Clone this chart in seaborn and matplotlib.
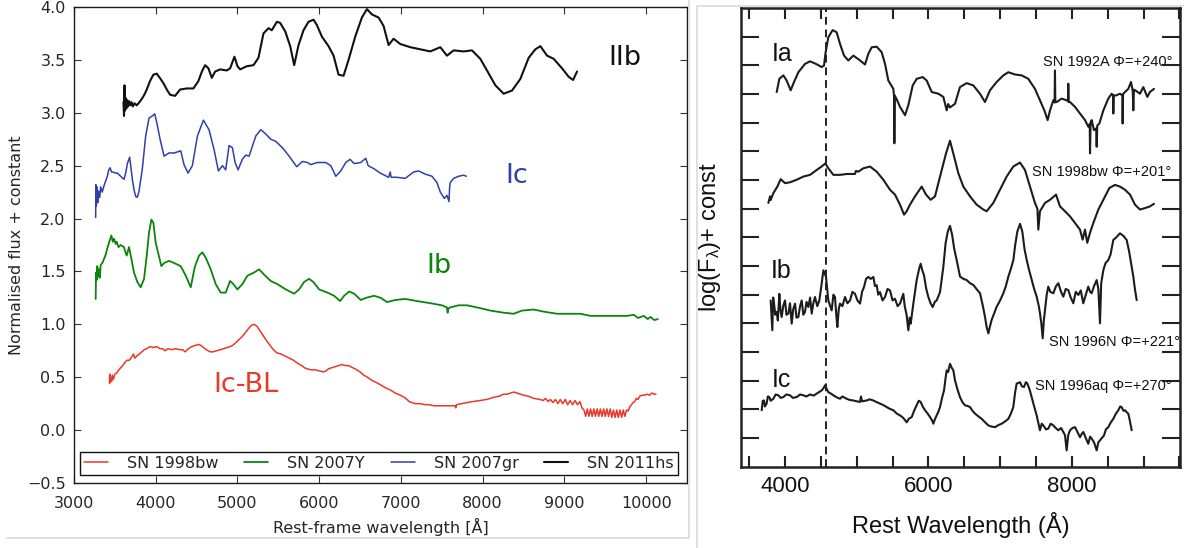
import numpy as np
import pandas as pd
import matplotlib
matplotlib.use("Agg")
import matplotlib.pyplot as plt
from matplotlib.ticker import MultipleLocator, NullFormatter
from matplotlib.lines import Line2D
import seaborn as sns

# ---------------- LEFT PANEL DATA (normalised flux + constant) ----------------
wl_2011hs = [3605, 3612, 3618, 3624, 3632, 3640, 3650, 3662, 3675, 3690, 3705, 3720, 3740, 3767, 3800,
             3829, 3860, 3890, 3930, 3971, 4012, 4050, 4094, 4135, 4176, 4237, 4298, 4380, 4461, 4522,
             4565, 4604, 4645, 4686, 4727, 4788, 4869, 4910, 4963, 5000, 5033, 5114, 5196, 5257, 5318,
             5380, 5420, 5482, 5522, 5584, 5645, 5694, 5747, 5808, 5869, 5931, 5971, 6033, 6114, 6176,
             6237, 6298, 6359, 6441, 6522, 6584, 6645, 6727, 6788, 6849, 6910, 6992, 7114, 7237, 7359,
             7482, 7563, 7645, 7767, 7869, 7971, 8053, 8155, 8257, 8359, 8461, 8563, 8645, 8706, 8788,
             8869, 8971, 9053, 9106, 9155]
fl_2011hs = [3.10, 2.97, 3.26, 3.02, 3.14, 3.04, 3.12, 3.06, 3.11, 3.07, 3.10, 3.06, 3.09, 3.07, 3.10,
             3.13, 3.17, 3.22, 3.30, 3.36, 3.37, 3.33, 3.28, 3.22, 3.17, 3.16, 3.22, 3.23, 3.23, 3.30,
             3.39, 3.45, 3.42, 3.33, 3.39, 3.41, 3.40, 3.42, 3.53, 3.44, 3.41, 3.44, 3.45, 3.52, 3.75,
             3.80, 3.78, 3.86, 3.85, 3.77, 3.63, 3.45, 3.64, 3.78, 3.86, 3.88, 3.83, 3.72, 3.63, 3.54,
             3.36, 3.35, 3.50, 3.72, 3.90, 3.98, 3.93, 3.90, 3.82, 3.64, 3.70, 3.65, 3.62, 3.60, 3.58,
             3.62, 3.54, 3.59, 3.58, 3.59, 3.51, 3.40, 3.26, 3.18, 3.21, 3.32, 3.52, 3.60, 3.63, 3.54,
             3.51, 3.42, 3.34, 3.31, 3.39]

wl_2007gr = [3265, 3268, 3273, 3280, 3290, 3300, 3315, 3326, 3345, 3367, 3390, 3408, 3425, 3441, 3460,
             3481, 3505, 3530, 3571, 3612, 3635, 3653, 3681, 3700, 3714, 3735, 3755, 3775, 3796, 3836,
             3877, 3918, 3959, 3987, 4012, 4053, 4102, 4163, 4224, 4306, 4346, 4395, 4448, 4510, 4583,
             4652, 4714, 4767, 4816, 4856, 4897, 4938, 4971, 5007, 5060, 5101, 5142, 5224, 5285, 5346,
             5407, 5468, 5550, 5632, 5725, 5795, 5856, 5897, 5978, 6080, 6142, 6203, 6264, 6325, 6378,
             6427, 6509, 6570, 6599, 6672, 6747, 6849, 6869, 6880, 6951, 7053, 7155, 7216, 7298, 7380,
             7441, 7482, 7531, 7563, 7588, 7596, 7604, 7645, 7706, 7767, 7800]
fl_2007gr = [2.01, 2.32, 2.12, 2.30, 2.15, 2.26, 2.20, 2.30, 2.25, 2.31, 2.36, 2.40, 2.46, 2.48, 2.44,
             2.44, 2.43, 2.43, 2.40, 2.37, 2.44, 2.52, 2.58, 2.46, 2.37, 2.27, 2.21, 2.20, 2.26, 2.47,
             2.78, 2.95, 2.97, 2.99, 2.91, 2.75, 2.59, 2.62, 2.62, 2.64, 2.51, 2.43, 2.50, 2.78, 2.93,
             2.84, 2.65, 2.45, 2.50, 2.46, 2.69, 2.67, 2.53, 2.46, 2.56, 2.60, 2.59, 2.78, 2.84, 2.80,
             2.75, 2.73, 2.67, 2.59, 2.49, 2.54, 2.53, 2.51, 2.53, 2.53, 2.50, 2.40, 2.45, 2.53, 2.56,
             2.52, 2.53, 2.57, 2.50, 2.47, 2.43, 2.39, 2.44, 2.39, 2.39, 2.38, 2.44, 2.45, 2.42, 2.40,
             2.34, 2.25, 2.19, 2.22, 2.16, 2.30, 2.34, 2.38, 2.40, 2.41, 2.40]

wl_2007Y = [3265, 3270, 3277, 3285, 3295, 3306, 3316, 3326, 3347, 3368, 3388, 3408, 3428, 3457, 3475,
            3490, 3510, 3522, 3545, 3571, 3612, 3630, 3645, 3673, 3702, 3734, 3775, 3816, 3857, 3890,
            3918, 3947, 3971, 4000, 4028, 4069, 4102, 4163, 4224, 4306, 4367, 4428, 4477, 4530, 4571,
            4612, 4673, 4734, 4795, 4856, 4910, 4950, 4999, 5060, 5122, 5203, 5264, 5326, 5407, 5489,
            5591, 5693, 5754, 5815, 5876, 5929, 5999, 6101, 6182, 6256, 6305, 6366, 6427, 6509, 6570,
            6672, 6754, 6829, 6931, 7053, 7196, 7359, 7502, 7563, 7571, 7580, 7604, 7706, 7808, 7931,
            8094, 8257, 8380, 8482, 8624, 8747, 8910, 9073, 9196, 9318, 9482, 9645, 9767, 9849, 9900,
            9971, 10020, 10053, 10100, 10143]
fl_2007Y = [1.24, 1.49, 1.42, 1.55, 1.45, 1.52, 1.44, 1.56, 1.58, 1.62, 1.66, 1.72, 1.77, 1.84, 1.78,
            1.81, 1.76, 1.78, 1.73, 1.75, 1.73, 1.68, 1.65, 1.73, 1.62, 1.49, 1.40, 1.35, 1.43, 1.65,
            1.87, 1.99, 1.96, 1.77, 1.68, 1.55, 1.58, 1.60, 1.58, 1.55, 1.46, 1.35, 1.54, 1.65, 1.68,
            1.63, 1.52, 1.38, 1.30, 1.30, 1.41, 1.38, 1.33, 1.38, 1.46, 1.49, 1.52, 1.47, 1.41, 1.38,
            1.33, 1.29, 1.33, 1.40, 1.43, 1.40, 1.33, 1.30, 1.27, 1.22, 1.27, 1.31, 1.29, 1.23, 1.25,
            1.27, 1.25, 1.21, 1.23, 1.24, 1.22, 1.20, 1.18, 1.16, 1.11, 1.15, 1.16, 1.18, 1.18, 1.16,
            1.13, 1.11, 1.10, 1.13, 1.14, 1.12, 1.10, 1.10, 1.10, 1.08, 1.08, 1.08, 1.08, 1.09, 1.06,
            1.08, 1.05, 1.07, 1.04, 1.05]

wl_1998bw = [3433, 3437, 3441, 3450, 3460, 3470, 3482, 3500, 3522, 3550, 3584, 3615, 3645, 3675, 3706,
             3727, 3745, 3767, 3800, 3829, 3860, 3890, 3930, 3971, 4010, 4053, 4085, 4114, 4150, 4196,
             4240, 4298, 4330, 4359, 4400, 4441, 4480, 4522, 4555, 4584, 4620, 4665, 4700, 4747, 4790,
             4829, 4870, 4910, 4940, 4971, 5010, 5053, 5095, 5135, 5170, 5204, 5240, 5275, 5318, 5360,
             5400, 5440, 5482, 5530, 5584, 5635, 5686, 5740, 5788, 5820, 5849, 5900, 5951, 6000, 6053,
             6085, 6114, 6155, 6196, 6240, 6278, 6320, 6359, 6410, 6461, 6500, 6543, 6590, 6645, 6700,
             6747, 6810, 6869, 6930, 6992, 7040, 7073, 7100, 7135, 7180, 7237, 7300, 7350, 7400, 7450,
             7500, 7563, 7620, 7665, 7670, 7680, 7740, 7808, 7880, 7971, 8050, 8135, 8200, 8257, 8300,
             8340, 8380, 8420, 8460, 8502, 8560, 8624, 8700, 8740, 8770, 8800, 8830, 8860, 8890, 8920,
             8950, 8980, 9010, 9040, 9070, 9100, 9130, 9160, 9190, 9215, 9240, 9260, 9280, 9300, 9320,
             9340, 9360, 9380, 9400, 9420, 9440, 9460, 9480, 9500, 9520, 9540, 9560, 9580, 9600, 9620,
             9640, 9660, 9680, 9700, 9720, 9740, 9760, 9780, 9800, 9820, 9840, 9860, 9880, 9900, 9920,
             9950, 9980, 10010, 10040, 10070, 10100, 10120]
fl_1998bw = [0.44, 0.53, 0.45, 0.50, 0.46, 0.52, 0.48, 0.53, 0.54, 0.57, 0.60, 0.63, 0.66, 0.66, 0.69,
             0.72, 0.68, 0.70, 0.72, 0.74, 0.76, 0.77, 0.79, 0.78, 0.79, 0.77, 0.77, 0.75, 0.77, 0.76,
             0.77, 0.76, 0.76, 0.74, 0.77, 0.79, 0.80, 0.81, 0.80, 0.78, 0.76, 0.74, 0.74, 0.75, 0.76,
             0.77, 0.78, 0.79, 0.80, 0.82, 0.85, 0.88, 0.92, 0.96, 0.99, 1.00, 0.98, 0.94, 0.89, 0.84,
             0.80, 0.76, 0.73, 0.72, 0.70, 0.68, 0.66, 0.63, 0.61, 0.59, 0.58, 0.57, 0.57, 0.56, 0.55,
             0.56, 0.58, 0.59, 0.60, 0.61, 0.62, 0.61, 0.61, 0.59, 0.57, 0.55, 0.52, 0.50, 0.47, 0.45,
             0.43, 0.40, 0.38, 0.35, 0.33, 0.31, 0.29, 0.27, 0.26, 0.25, 0.25, 0.24, 0.24, 0.23, 0.23,
             0.23, 0.23, 0.23, 0.23, 0.21, 0.24, 0.25, 0.26, 0.27, 0.28, 0.29, 0.31, 0.32, 0.34, 0.34,
             0.35, 0.36, 0.35, 0.34, 0.33, 0.32, 0.30, 0.29, 0.28, 0.30, 0.27, 0.29, 0.26, 0.29, 0.25,
             0.29, 0.25, 0.29, 0.24, 0.28, 0.24, 0.28, 0.24, 0.27, 0.21, 0.19, 0.13, 0.20, 0.13, 0.20,
             0.13, 0.20, 0.13, 0.20, 0.13, 0.20, 0.13, 0.20, 0.13, 0.20, 0.13, 0.20, 0.12, 0.19, 0.12,
             0.19, 0.12, 0.19, 0.12, 0.19, 0.13, 0.19, 0.18, 0.22, 0.24, 0.26, 0.27, 0.30, 0.29, 0.32,
             0.33, 0.33, 0.34, 0.33, 0.35, 0.34, 0.34]

left_names = ["SN 1998bw", "SN 2007Y", "SN 2007gr", "SN 2011hs"]
left_colors = ["#e8392a", "#0a850a", "#3040a8", "#111111"]
left_types = ["Ic-BL", "Ib", "Ic", "IIb"]
left_type_pos = [(5105, 0.43), (7461, 1.55), (8422, 2.40), (9744, 3.52)]

# ---------------- RIGHT PANEL DATA (log F + const, arbitrary tick units) ----------------
wl_1992A = [3884, 3921, 3977, 4023, 4079, 4126, 4186, 4279, 4349, 4432, 4511, 4544, 4563, 4604, 4665,
            4721, 4767, 4823, 4883, 4953, 5037, 5116, 5162, 5209, 5278, 5348, 5395, 5441, 5511, 5522,
            5525, 5530, 5560, 5604, 5674, 5720, 5781, 5837, 5920, 5976, 6046, 6139, 6208, 6255, 6275,
            6301, 6371, 6440, 6533, 6626, 6719, 6789, 6859, 6952, 7045, 7115, 7208, 7301, 7393, 7486,
            7556, 7617, 7663, 7696, 7742, 7760, 7765, 7770, 7789, 7858, 7928, 7948, 7951, 7955, 7975,
            8045, 8114, 8184, 8230, 8250, 8254, 8262, 8277, 8309, 8340, 8347, 8355, 8384, 8440, 8509,
            8556, 8575, 8579, 8585, 8616, 8672, 8705, 8709, 8715, 8742, 8788, 8826, 8850, 8858, 8866,
            8886, 8951, 8997, 9053, 9090, 9146]
fl_1992A = [13.07, 13.53, 13.65, 13.47, 13.13, 13.42, 13.76, 14.05, 14.14, 14.05, 13.94, 13.99, 14.40, 14.98, 15.23,
            15.15, 14.75, 14.34, 14.17, 14.34, 14.19, 14.03, 14.40, 14.63, 14.65, 14.46, 14.05, 13.47, 13.18, 12.90,
            11.28, 12.95, 12.80, 12.55, 12.26, 12.61, 13.30, 13.53, 13.59, 13.47, 13.07, 13.01, 12.90, 12.43, 12.65,
            12.53, 12.66, 13.24, 13.38, 13.30, 13.01, 12.72, 13.13, 13.42, 13.65, 13.76, 13.68, 13.65, 13.53, 13.18,
            12.78, 12.43, 12.09, 12.43, 12.78, 12.70, 13.82, 12.72, 12.72, 12.84, 12.78, 12.75, 13.36, 12.72, 12.72,
            12.55, 12.32, 12.09, 11.86, 11.95, 10.93, 12.00, 12.09, 11.74, 11.80, 11.16, 11.90, 11.97, 12.43, 12.84,
            13.01, 12.95, 12.32, 12.95, 12.95, 13.01, 12.95, 11.97, 13.00, 13.07, 13.18, 13.42, 13.10, 12.43, 13.15,
            13.13, 13.01, 13.24, 12.90, 13.07, 13.18]

wl_r1998bw = [3768, 3791, 3800, 3837, 3893, 3940, 4000, 4070, 4163, 4256, 4349, 4442, 4511, 4563, 4604,
              4674, 4767, 4860, 4976, 4990, 5023, 5093, 5186, 5279, 5371, 5464, 5534, 5604, 5660, 5697,
              5743, 5813, 5906, 5967, 6032, 6092, 6162, 6246, 6301, 6347, 6417, 6487, 6580, 6673, 6766,
              6812, 6905, 6998, 7091, 7184, 7277, 7347, 7417, 7486, 7520, 7533, 7556, 7626, 7696, 7780,
              7835, 7905, 7975, 8045, 8114, 8151, 8184, 8216, 8254, 8300, 8370, 8440, 8523, 8602, 8672,
              8742, 8812, 8881, 8951, 9021, 9090, 9146]
fl_r1998bw = [9.20, 9.43, 9.30, 9.54, 9.77, 10.03, 9.89, 9.92, 10.01, 10.12, 10.18, 10.35, 10.47, 10.58, 10.41,
              10.18, 10.18, 10.21, 10.21, 10.32, 10.29, 10.41, 10.47, 10.29, 10.01, 9.66, 9.49, 9.14, 8.79, 8.91,
              9.14, 9.43, 9.77, 9.49, 9.31, 9.43, 10.12, 10.93, 11.37, 10.93, 10.24, 9.77, 9.43, 9.14, 8.97,
              8.91, 9.20, 9.66, 10.12, 10.47, 10.61, 10.35, 9.77, 9.20, 9.00, 8.27, 8.91, 9.20, 9.31, 9.49,
              9.08, 8.91, 8.73, 8.50, 8.27, 7.92, 8.27, 7.81, 8.16, 8.50, 8.97, 9.31, 9.72, 9.83, 9.77,
              9.66, 9.49, 9.14, 8.97, 9.02, 9.08, 9.17]

wl_1996N = [3800, 3823, 3835, 3847, 3865, 3884, 3900, 3921, 3935, 3953, 3975, 4000, 4020, 4047, 4070,
            4093, 4115, 4140, 4160, 4186, 4210, 4233, 4255, 4279, 4300, 4325, 4350, 4372, 4395, 4418,
            4450, 4479, 4511, 4535, 4560, 4572, 4604, 4630, 4651, 4675, 4697, 4715, 4730, 4750, 4767,
            4800, 4837, 4870, 4907, 4940, 4976, 5010, 5046, 5075, 5102, 5130, 5162, 5195, 5232, 5255,
            5279, 5300, 5325, 5360, 5395, 5430, 5464, 5500, 5534, 5570, 5604, 5625, 5650, 5670, 5697,
            5720, 5740, 5753, 5790, 5836, 5870, 5892, 5915, 5939, 5970, 5999, 6030, 6060, 6090, 6115,
            6162, 6208, 6240, 6270, 6301, 6330, 6360, 6394, 6441, 6490, 6534, 6580, 6627, 6670, 6720,
            6760, 6789, 6810, 6836, 6859, 6882, 6910, 6952, 7000, 7045, 7080, 7115, 7150, 7185, 7208,
            7240, 7278, 7310, 7340, 7371, 7400, 7441, 7475, 7510, 7540, 7556, 7575, 7594, 7610, 7626,
            7650, 7672, 7700, 7742, 7780, 7812, 7850, 7882, 7915, 7951, 7985, 8021, 8055, 8091, 8125,
            8160, 8195, 8230, 8255, 8277, 8310, 8347, 8370, 8393, 8410, 8440, 8470, 8509, 8540, 8579,
            8620, 8672, 8720, 8765, 8800, 8835, 8858, 8880, 8905]
fl_1996N = [5.80, 4.76, 5.90, 5.69, 5.30, 5.40, 5.10, 6.03, 5.50, 5.22, 5.60, 5.80, 5.30, 5.34, 5.70,
            4.99, 5.50, 5.69, 5.20, 5.22, 5.60, 5.80, 5.30, 5.40, 5.75, 5.57, 5.90, 5.34, 5.70, 5.92,
            5.60, 5.80, 6.38, 6.85, 6.70, 6.62, 5.80, 5.60, 5.45, 6.00, 5.92, 5.30, 4.87, 5.50, 5.69,
            5.60, 5.92, 5.70, 5.80, 6.10, 6.03, 5.80, 5.69, 6.10, 6.27, 6.55, 6.62, 6.55, 6.62, 6.30,
            6.33, 6.00, 6.09, 5.80, 5.92, 6.20, 6.15, 5.80, 5.86, 5.60, 5.69, 5.85, 6.03, 5.60, 5.28,
            4.76, 5.20, 4.99, 5.69, 6.50, 6.90, 7.08, 6.85, 6.67, 6.20, 5.92, 5.70, 5.57, 5.75, 5.80,
            6.09, 6.97, 7.80, 8.20, 8.40, 8.10, 7.60, 7.21, 6.63, 6.55, 6.51, 6.40, 6.34, 6.20, 6.05,
            5.60, 5.23, 4.90, 4.65, 4.90, 5.12, 5.30, 5.58, 5.80, 6.05, 6.30, 6.63, 6.90, 7.21, 7.69,
            8.20, 8.47, 8.20, 7.60, 7.21, 6.90, 6.51, 6.20, 5.93, 5.60, 5.35, 5.00, 4.48, 5.10, 5.47,
            6.00, 6.28, 6.10, 6.05, 6.30, 6.40, 6.10, 5.93, 6.20, 6.16, 5.90, 5.70, 6.10, 5.99, 6.15,
            5.70, 6.00, 6.28, 6.10, 6.05, 6.30, 6.51, 6.20, 5.00, 6.40, 6.86, 7.10, 7.21, 7.40, 7.91,
            8.00, 8.14, 8.05, 7.91, 7.50, 6.98, 6.63, 6.20, 5.81]

wl_1996aq = [3675, 3690, 3707, 3720, 3744, 3760, 3781, 3800, 3837, 3870, 3907, 3940, 3977, 4020, 4070,
             4110, 4163, 4210, 4256, 4300, 4349, 4400, 4442, 4511, 4540, 4558, 4580, 4604, 4640, 4674,
             4720, 4767, 4800, 4860, 4900, 4953, 5000, 5046, 5060, 5075, 5139, 5180, 5232, 5280, 5325,
             5370, 5418, 5460, 5511, 5560, 5604, 5650, 5697, 5730, 5767, 5800, 5836, 5865, 5892, 5920,
             5953, 5990, 6023, 6050, 6069, 6090, 6115, 6140, 6162, 6190, 6218, 6240, 6255, 6275, 6301,
             6325, 6348, 6371, 6405, 6440, 6475, 6510, 6545, 6580, 6615, 6650, 6700, 6743, 6790, 6836,
             6880, 6929, 6975, 7022, 7070, 7115, 7150, 7184, 7210, 7231, 7255, 7277, 7305, 7333, 7360,
             7380, 7410, 7440, 7475, 7510, 7535, 7556, 7580, 7603, 7640, 7672, 7705, 7742, 7775, 7812,
             7850, 7882, 7905, 7928, 7950, 7975, 8010, 8045, 8080, 8114, 8140, 8161, 8195, 8230, 8255,
             8277, 8310, 8347, 8370, 8393, 8420, 8449, 8475, 8509, 8545, 8579, 8615, 8649, 8675, 8695,
             8720, 8742, 8765, 8788, 8810, 8835]
fl_1996aq = [1.97, 2.30, 2.31, 2.10, 2.20, 2.45, 2.43, 2.30, 2.37, 2.52, 2.49, 2.40, 2.43, 2.52, 2.49,
             2.40, 2.43, 2.52, 2.49, 2.45, 2.52, 2.48, 2.55, 2.66, 2.75, 2.84, 2.72, 2.60, 2.55, 2.49,
             2.42, 2.37, 2.45, 2.37, 2.33, 2.31, 2.28, 2.26, 2.45, 2.28, 2.31, 2.35, 2.31, 2.25, 2.20,
             2.15, 2.08, 2.02, 1.97, 1.85, 1.79, 1.70, 1.55, 1.68, 1.73, 1.95, 2.14, 2.30, 2.26, 2.10,
             1.97, 1.85, 1.73, 1.62, 1.50, 1.65, 1.79, 1.92, 2.08, 2.40, 2.66, 3.10, 3.36, 3.30, 3.59,
             3.45, 3.36, 3.01, 2.70, 2.43, 2.25, 2.14, 2.12, 2.08, 1.95, 1.85, 1.75, 1.67, 1.55, 1.44,
             1.40, 1.38, 1.45, 1.50, 1.58, 1.67, 1.85, 2.08, 2.60, 2.90, 2.92, 2.95, 2.80, 2.78, 2.95,
             2.90, 2.70, 2.43, 2.10, 1.79, 1.50, 1.27, 1.50, 1.44, 1.30, 1.33, 1.50, 1.44, 1.35, 1.27,
             1.35, 1.21, 1.10, 0.57, 1.10, 1.27, 1.35, 1.38, 1.20, 1.03, 1.15, 1.21, 1.00, 0.80, 1.05,
             0.98, 0.85, 0.57, 0.85, 0.92, 1.00, 1.09, 1.30, 1.38, 1.55, 1.67, 1.85, 1.97, 2.10, 2.08,
             1.95, 1.97, 1.90, 1.85, 1.60, 1.27]

right_types = ["Ia", "Ib", "Ic"]
right_type_pos = [(3954, 14.41), (3944, 6.82), (3948, 3.03)]
right_notes = ["SN 1992A \u03a6=+240\u00b0", "SN 1998bw \u03a6=+201\u00b0",
               "SN 1996N \u03a6=+221\u00b0", "SN 1996aq \u03a6=+270\u00b0"]
right_note_pos = [(9398, 14.11), (9384, 10.28), (9509, 4.35), (9398, 2.81)]
marker_line_wl = 4570

# ---------------- STYLE ----------------
sns.set_style("ticks")
plt.rcParams['font.family'] = ['DejaVu Sans']
plt.rcParams['axes.unicode_minus'] = True
plt.rcParams['mathtext.fontset'] = 'custom'
plt.rcParams['mathtext.rm'] = 'Liberation Sans'
plt.rcParams['mathtext.it'] = 'Liberation Sans:italic'
plt.rcParams['mathtext.sf'] = 'Liberation Sans'

W, H = 1184, 548
fig = plt.figure(figsize=(W / 100, H / 100), dpi=100)
fig.patch.set_facecolor("white")

def fx(px):
    return px / W

def fy(py):
    return 1 - py / H

ax1 = fig.add_axes([fx(74), fy(483), (687 - 74) / W, (483 - 7) / H])
ax2 = fig.add_axes([fx(740.7), fy(466.7), (1180 - 740.7) / W, (466.7 - 8) / H])

# ---------------- LEFT PANEL ----------------
left_wl = [wl_1998bw, wl_2007Y, wl_2007gr, wl_2011hs]
left_fl = [fl_1998bw, fl_2007Y, fl_2007gr, fl_2011hs]
left_lw = [1.1, 1.3, 1.1, 1.5]
frames = []
for name, w, f in zip(left_names, left_wl, left_fl):
    frames.append(pd.DataFrame({"wl": w, "flux": f, "sn": name}))
left_df = pd.concat(frames, ignore_index=True)

for name, col, lw in zip(left_names, left_colors, left_lw):
    sub = left_df[left_df["sn"] == name]
    sns.lineplot(data=sub, x="wl", y="flux", color=col, lw=lw, sort=False,
                 estimator=None, label=name, ax=ax1)

for t, (x, y), col in zip(left_types, left_type_pos, left_colors):
    ax1.text(x, y, t, color=col, fontsize=19.5, ha="center", va="center")

ax1.set_xlim(3000, 10500)
ax1.set_ylim(-0.5, 4.0)
ax1.set_xticks(np.arange(3000, 10001, 1000))
ax1.set_yticks(np.arange(-0.5, 4.01, 0.5))
ax1.tick_params(axis="both", which="major", direction="in", top=True, right=True,
                length=5, width=0.8, color="#333333", labelsize=11.5, labelcolor="#262626")
ax1.tick_params(axis="x", pad=9)
ax1.tick_params(axis="y", pad=6)
for s in ax1.spines.values():
    s.set_color("#1a1a1a")
    s.set_linewidth(1.0)
ax1.set_xlabel("Rest-frame wavelength [\u00c5]", fontsize=11.5, color="#262626")
ax1.set_ylabel("Normalised flux + constant", fontsize=11.5, color="#262626")
ax1.xaxis.label.set_va("baseline")
ax1.xaxis.set_label_coords(0.5, (483 - 533) / 476)
ax1.yaxis.label.set_va("baseline")
ax1.yaxis.set_label_coords((21 - 74) / 613, 0.5)

handles, labels = ax1.get_legend_handles_labels()
leg = ax1.legend(handles, labels, ncol=4, mode="expand", loc="lower left",
                 bbox_to_anchor=(6 / 613, 8 / 476, 598 / 613, 29 / 476),
                 fontsize=11.5, frameon=True, fancybox=False, framealpha=1,
                 edgecolor="#111111", borderaxespad=0, handlelength=1.5,
                 handletextpad=1.2, borderpad=0.25)
leg.get_frame().set_linewidth(1.0)
for t in leg.get_texts():
    t.set_color("#262626")

# ---------------- RIGHT PANEL ----------------
right_wl = [wl_1992A, wl_r1998bw, wl_1996N, wl_1996aq]
right_fl = [fl_1992A, fl_r1998bw, fl_1996N, fl_1996aq]
right_names = ["SN 1992A", "SN 1998bw", "SN 1996N", "SN 1996aq"]
rframes = []
for name, w, f in zip(right_names, right_wl, right_fl):
    rframes.append(pd.DataFrame({"wl": w, "flux": f, "sn": name}))
right_df = pd.concat(rframes, ignore_index=True)
for name in right_names:
    sub = right_df[right_df["sn"] == name]
    sns.lineplot(data=sub, x="wl", y="flux", color="#1c1c1c", lw=1.5, sort=False,
                 estimator=None, legend=False, ax=ax2)

ax2.axvline(marker_line_wl, color="#222222", lw=1.4, ls=(0, (4, 2.5)))

RF = "Liberation Sans"
for t, (x, y) in zip(right_types, right_type_pos):
    ax2.text(x, y, t, fontsize=18, ha="center", va="center", family=RF, color="#111111")
for t, (x, y) in zip(right_notes, right_note_pos):
    ax2.text(x, y, t, fontsize=10.5, ha="right", va="center", family=RF, color="#111111")

ax2.set_xlim(3382, 9509)
ax2.set_ylim(0, 16)
ax2.set_xticks([4000, 6000, 8000], labels=["4000", "6000", "8000"], fontsize=16, family=RF)
ax2.xaxis.set_minor_locator(MultipleLocator(500))
ax2.set_yticks(np.arange(1, 16, 1))
ax2.yaxis.set_major_formatter(NullFormatter())
ax2.tick_params(axis="x", which="both", direction="in", top=True, bottom=True,
                length=8, width=1.5, color="#222222", pad=7, labelcolor="#111111")
ax2.tick_params(axis="y", which="major", direction="in", left=True, right=True,
                length=13, width=1.5, color="#222222")
for s in ax2.spines.values():
    s.set_color("#222222")
    s.set_linewidth(1.8)
ax2.set_xlabel("Rest Wavelength (\u00c5)", fontsize=17, family=RF, color="#111111")
ax2.set_ylabel("log(F$_\\mathrm{\u03bb}$)+ const", fontsize=17, family=RF, color="#111111")
ax2.xaxis.label.set_va("baseline")
ax2.xaxis.set_label_coords(0.5, (466.7 - 533) / 458.7)
ax2.yaxis.label.set_va("baseline")
ax2.yaxis.set_label_coords((716 - 740.7) / 439.3, 0.5)

# light image borders of the two original pictures
border = "#dcdcdc"
fig.add_artist(Line2D([fx(7), fx(689)], [fy(538), fy(538)], color=border, lw=1.2))
fig.add_artist(Line2D([fx(689), fx(689)], [fy(0), fy(538)], color=border, lw=1.2))
fig.add_artist(Line2D([fx(697), fx(697)], [fy(6), fy(548)], color=border, lw=1.2))
fig.add_artist(Line2D([fx(697), fx(1184)], [fy(6), fy(6)], color=border, lw=1.2))

fig.savefig("out.png", dpi=100, facecolor="white")
